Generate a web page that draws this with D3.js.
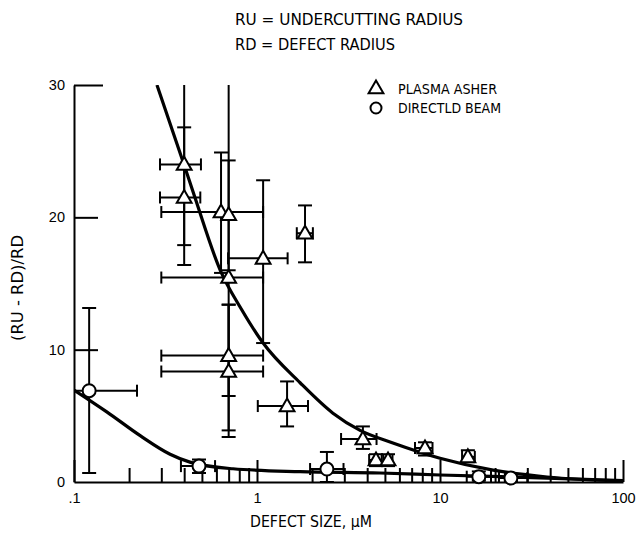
<!DOCTYPE html>
<html><head><meta charset="utf-8">
<script src="https://cdn.jsdelivr.net/npm/d3@7"></script>
<style>body{margin:0;background:#fff}svg{display:block}</style>
</head><body>
<svg id="chart" width="640" height="538"></svg>
<script>
// ---- data ----
const titleLines = ["RU = UNDERCUTTING RADIUS", "RD = DEFECT RADIUS"];
const seriesNames = ["PLASMA ASHER", "DIRECTLD BEAM"];
const xLabel = "DEFECT SIZE, \u00B5M";
const yLabel = "(RU - RD)/RD";
const xTickValues = [0.1, 1, 10, 100];
const xTickLabels = [".1", "1", "10", "100"];
const yTickValues = [0, 10, 20, 30];

// Plasma asher (triangles)
const plasmaX    = [0.40, 0.40, 0.636, 0.70, 0.70, 0.70, 0.70, 1.08, 1.83, 1.46, 3.79, 4.47, 5.2, 8.28, 14.2];
const plasmaY    = [24.0, 21.5, 20.4, 20.2, 15.45, 9.55, 8.35, 16.9, 18.8, 5.74, 3.25, 1.66, 1.66, 2.57, 1.9];
const plasmaXLo  = [0.295, 0.295, 0.30, null, 0.30, 0.30, 0.30, 0.695, 1.65, 1.01, 2.88, 4.1, 4.9, 7.3, 13.2];
const plasmaXHi  = [0.494, 0.49, 1.08, null, 1.08, 1.08, 1.08, 1.47, 2.02, 1.90, 4.5, 4.8, 5.5, 9.1, 15.5];
const plasmaYLo  = [17.9, 16.4, 15.8, 16.0, 3.9, 6.5, 3.4, 10.5, 16.6, 4.2, 2.5, 1.2, 1.2, 2.0, 1.5];
const plasmaYHi  = [31, 26.8, 24.9, 31, 24.3, 13.4, 13.4, 22.8, 20.9, 7.6, 4.2, 2.1, 2.1, 3.0, 2.4];

// Directed beam (circles)
const beamX   = [0.121, 0.482, 2.41, 16.3, 24.4];
const beamY   = [6.9, 1.2, 0.98, 0.4, 0.3];
const beamXLo = [0.1, 0.384, 1.95, 14, 21];
const beamXHi = [0.221, 0.59, 2.97, 19, 30];
const beamYLo = [0.68, 0.68, 0.0, 0.1, 0.05];
const beamYHi = [13.15, 1.7, 2.27, 0.8, 0.6];

// Fitted curves
const upperCurveX = [0.284, 0.399, 0.458, 0.63, 0.81, 1.08, 1.72, 2.6, 3.66, 5.53, 10, 19.5, 38.5, 100];
const upperCurveY = [30, 24, 21.5, 16, 13.2, 10.5, 7.5, 5.2, 3.9, 2.95, 1.8, 0.9, 0.38, 0.08];
const lowerCurveX = [0.1, 0.151, 0.23, 0.335, 0.43, 0.74, 1.72, 4.7, 10, 38.5, 100];
const lowerCurveY = [6.95, 5.3, 3.5, 2.1, 1.5, 1.0, 0.78, 0.68, 0.53, 0.3, 0.1];

// ---- drawing ----
const svg = d3.select("#chart");
const x = d3.scaleLog().domain([0.1, 100]).range([74, 623]);
const y = d3.scaleLinear().domain([0, 30]).range([482, 85]);
const font = "'Liberation Sans Narrow','DejaVu Sans Condensed','Arial Narrow',sans-serif";
const tickFont = "'Liberation Sans','Arial',sans-serif";

svg.append("defs").append("clipPath").attr("id", "plot")
  .append("rect").attr("x", 74).attr("y", 85).attr("width", 566).attr("height", 398);

// title lines
const titleW = [228, 160];
titleLines.forEach((t, i) => {
  svg.append("text").attr("x", 235).attr("y", 25 + i * 25)
    .attr("font-family", font).attr("font-size", 15.5)
    .attr("textLength", titleW[i]).attr("lengthAdjust", "spacingAndGlyphs")
    .text(t);
});

// x axis
const xAxisG = svg.append("g").attr("transform", `translate(0,${y(0)})`);
xAxisG.call(d3.axisBottom(x).tickValues(xTickValues).tickSize(-22).tickSizeOuter(0).tickPadding(11)
  .tickFormat((d, i) => xTickLabels[i]));
const minor = [];
for (let dec = 0.1; dec < 100; dec *= 10) for (let k = 2; k <= 9; k++) minor.push(+(dec * k).toPrecision(3));
svg.append("g").attr("transform", `translate(0,${y(0)})`)
  .call(d3.axisBottom(x).tickValues(minor).tickSize(-14).tickSizeOuter(0).tickFormat(""))
  .call(g => g.select(".domain").remove());

// y axis
const yAxisG = svg.append("g").attr("transform", `translate(${x(0.1)},0)`);
yAxisG.call(d3.axisLeft(y).tickValues(yTickValues).tickSize(-24).tickSizeOuter(0).tickPadding(9));
yAxisG.selectAll(".tick").filter(d => d === 30).select("line").attr("x2", 29);
yAxisG.selectAll(".tick").filter(d => d === 0).select("line").remove();

[xAxisG, yAxisG].forEach(g => {
  g.selectAll("path,line").attr("stroke", "#000").attr("stroke-width", 2);
  g.selectAll("text").attr("font-family", tickFont).attr("font-size", 14.5).attr("fill", "#000");
});
svg.selectAll(".tick line").attr("stroke", "#000").attr("stroke-width", 2);

// axis labels
svg.append("text").attr("x", 311).attr("y", 527).attr("text-anchor", "middle")
  .attr("font-family", font).attr("font-size", 15)
  .attr("textLength", 122).attr("lengthAdjust", "spacingAndGlyphs").text(xLabel);
svg.append("text").attr("transform", "translate(23,288) rotate(-90)").attr("text-anchor", "middle")
  .attr("font-family", font).attr("font-size", 15)
  .attr("textLength", 106).attr("lengthAdjust", "spacingAndGlyphs").text(yLabel);

// curves
const line = d3.line().x(d => x(d[0])).y(d => y(d[1])).curve(d3.curveMonotoneX);
const curves = svg.append("g").attr("clip-path", "url(#plot)");
[[upperCurveX, upperCurveY], [lowerCurveX, lowerCurveY]].forEach(([xs, ys]) => {
  curves.append("path").attr("d", line(xs.map((v, i) => [v, ys[i]])))
    .attr("fill", "none").attr("stroke", "#000").attr("stroke-width", 3.2);
});

// error bars
const eb = svg.append("g").attr("clip-path", "url(#plot)")
  .attr("stroke", "#000").attr("stroke-width", 2).attr("fill", "none");
function errorBars(xs, ys, xlo, xhi, ylo, yhi) {
  xs.forEach((xv, i) => {
    const cx = x(xv), cy = y(ys[i]);
    if (ylo[i] != null) {
      const a = y(ylo[i]), b = y(yhi[i]);
      eb.append("line").attr("x1", cx).attr("x2", cx).attr("y1", a).attr("y2", b);
      eb.append("line").attr("x1", cx - 7).attr("x2", cx + 7).attr("y1", a).attr("y2", a);
      eb.append("line").attr("x1", cx - 7).attr("x2", cx + 7).attr("y1", b).attr("y2", b);
    }
    if (xlo[i] != null) {
      const a = x(xlo[i]), b = x(xhi[i]);
      eb.append("line").attr("x1", a).attr("x2", b).attr("y1", cy).attr("y2", cy);
      eb.append("line").attr("x1", a).attr("x2", a).attr("y1", cy - 6).attr("y2", cy + 6);
      eb.append("line").attr("x1", b).attr("x2", b).attr("y1", cy - 6).attr("y2", cy + 6);
    }
  });
}
errorBars(plasmaX, plasmaY, plasmaXLo, plasmaXHi, plasmaYLo, plasmaYHi);
errorBars(beamX, beamY, beamXLo, beamXHi, beamYLo, beamYHi);

// markers
const tri = d3.symbol().type(d3.symbolTriangle).size(95);
svg.append("g").selectAll("path").data(plasmaX).join("path")
  .attr("d", tri).attr("transform", (d, i) => `translate(${x(d)},${y(plasmaY[i]) + 1})`)
  .attr("fill", "#fff").attr("stroke", "#000").attr("stroke-width", 2);
svg.append("g").selectAll("circle").data(beamX).join("circle")
  .attr("cx", d => x(d)).attr("cy", (d, i) => y(beamY[i])).attr("r", 6.5)
  .attr("fill", "#fff").attr("stroke", "#000").attr("stroke-width", 2);

// legend
const leg = svg.append("g");
leg.append("path").attr("d", tri).attr("transform", "translate(376,89)")
  .attr("fill", "#fff").attr("stroke", "#000").attr("stroke-width", 2);
leg.append("circle").attr("cx", 376).attr("cy", 108).attr("r", 5.5)
  .attr("fill", "#fff").attr("stroke", "#000").attr("stroke-width", 2);
const legW = [99, 103];
seriesNames.forEach((t, i) => {
  leg.append("text").attr("x", 398).attr("y", 94 + i * 19)
    .attr("font-family", font).attr("font-size", 14)
    .attr("textLength", legW[i]).attr("lengthAdjust", "spacingAndGlyphs").text(t);
});
</script>
</body></html>
